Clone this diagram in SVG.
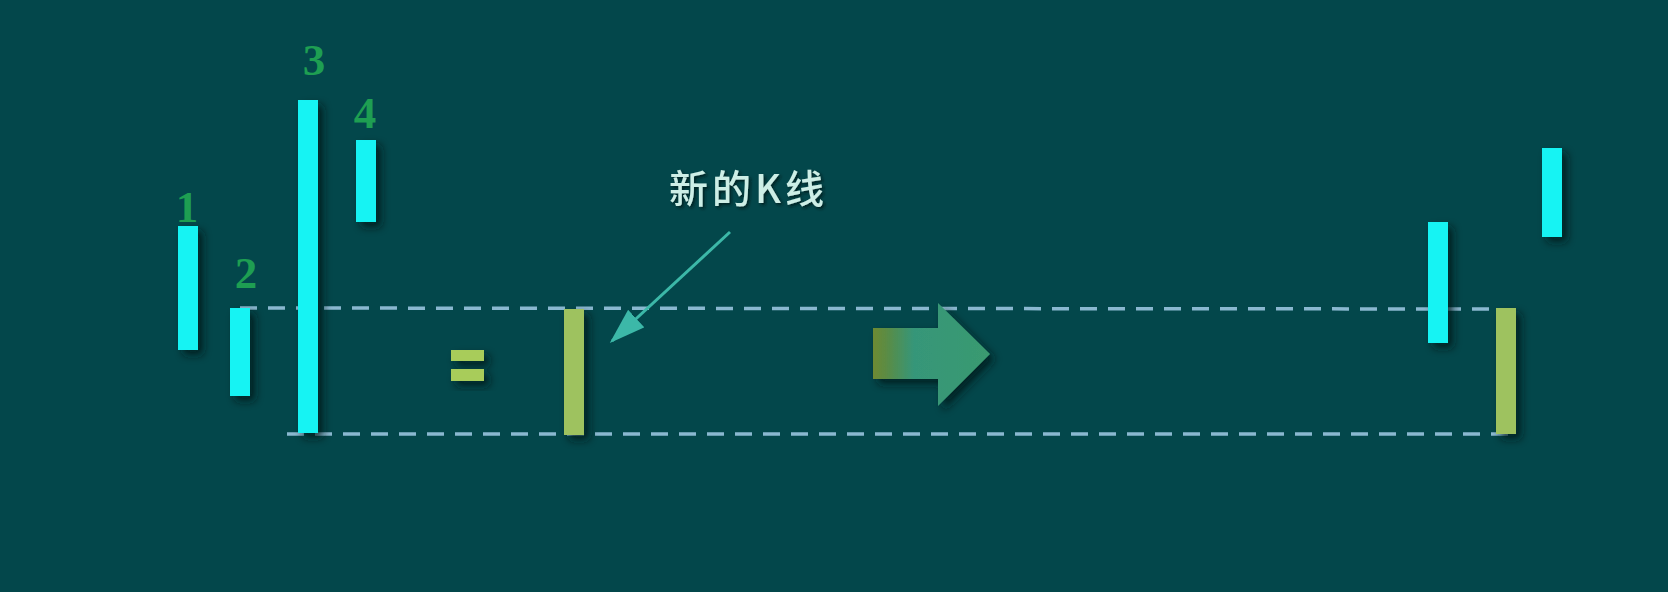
<svg xmlns="http://www.w3.org/2000/svg" width="1668" height="592" viewBox="0 0 1668 592">
<defs>
<filter id="sh" x="-50%" y="-20%" width="250%" height="150%">
<feDropShadow dx="5" dy="5" stdDeviation="4" flood-color="#001a1c" flood-opacity="0.8"/>
</filter>
<filter id="tsh" x="-10%" y="-20%" width="120%" height="150%">
<feDropShadow dx="2" dy="2" stdDeviation="1.5" flood-color="#001a1c" flood-opacity="0.8"/>
</filter>
<linearGradient id="ag" x1="0" y1="0" x2="1" y2="0">
<stop offset="0" stop-color="#6e8a32"/>
<stop offset="0.12" stop-color="#5a8c45"/>
<stop offset="0.35" stop-color="#369679"/>
<stop offset="1" stop-color="#3a9a70"/>
</linearGradient>
<marker id="ah" markerWidth="12" markerHeight="8" refX="11" refY="4" orient="auto" markerUnits="strokeWidth">
<path d="M0,0 L12,4 L0,8 Z" fill="#3cb8a8"/>
</marker>
</defs>
<style>
.cy{fill:#19f3f3;filter:url(#sh)}
.gr{fill:#9ec25e;filter:url(#sh)}
.num{font-family:"Liberation Serif",serif;font-size:45px;font-weight:bold;fill:#1e9e52;text-anchor:middle}
.dash{stroke:#8ab8d0;stroke-width:3.5;stroke-dasharray:17 11;fill:none}
</style>
<rect width="1668" height="592" fill="#03474b"/>
<g id="connectors">
<line class="dash" x1="240" y1="308" x2="1500" y2="309"/>
<line class="dash" x1="287" y1="434" x2="1508" y2="434"/>
<line x1="730" y1="232" x2="612" y2="341" stroke="#3cb8a8" stroke-width="3" marker-end="url(#ah)"/>
</g>
<g id="k1"><rect class="cy" x="178" y="226" width="20" height="124"/><text class="num" x="187" y="222">1</text></g>
<g id="k2"><rect class="cy" x="230" y="308" width="20" height="88"/><text class="num" x="246" y="288">2</text></g>
<g id="k3"><rect class="cy" x="298" y="100" width="20" height="333"/><text class="num" x="314" y="75">3</text></g>
<g id="k4"><rect class="cy" x="356" y="140" width="20" height="82"/><text class="num" x="365" y="128">4</text></g>
<g id="equals" style="filter:url(#sh)">
<rect x="451" y="350" width="33" height="11" fill="#a8cc5a"/>
<rect x="451" y="369" width="33" height="12" fill="#a8cc5a"/>
</g>
<g id="newk"><rect class="gr" x="564" y="309" width="20" height="126"/></g>
<g id="label"><text x="669" y="203" font-family="'Noto Sans CJK SC',sans-serif" font-size="39" font-weight="500" letter-spacing="4" fill="#cdeee6" filter="url(#tsh)">新的K线</text></g>
<g id="bigarrow" style="filter:url(#sh)">
<path d="M873,328 L938,328 L938,303 L990,354 L938,406 L938,379 L873,379 Z" fill="url(#ag)"/>
</g>
<g id="r1"><rect class="cy" x="1428" y="222" width="20" height="121"/></g>
<g id="r2"><rect class="cy" x="1542" y="148" width="20" height="89"/></g>
<g id="r3"><rect class="gr" x="1496" y="308" width="20" height="126"/></g>
</svg>
